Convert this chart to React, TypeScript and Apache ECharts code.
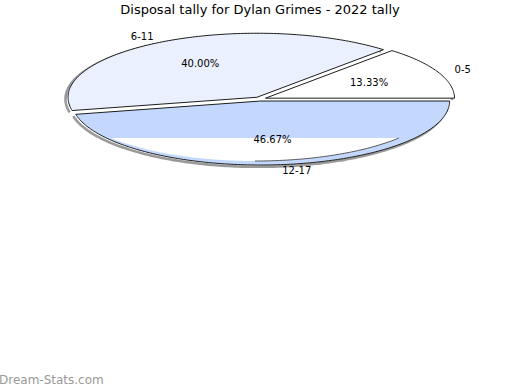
import React, { useEffect, useRef } from "react";
import * as echarts from "echarts";

const categories = ["0-5", "6-11", "12-17"];
const values = [2, 6, 7];
const sliceColors = ["#ffffff", "#eaf0fd", "#c4d8fe"];
const titleText = "Disposal tally for Dylan Grimes - 2022 tally";
const watermark = "Dream-Stats.com";

// layout (pixels)
const CX = 260;
const CY = 99;
const RA = 189;
const RB = 64;
const EXPLODE = 6;
const FONT = "DejaVu Sans";

function renderItem(params: any, api: any) {
  const i = params.dataIndex;
  const total = values.reduce((s, v) => s + v, 0);
  let start = 0;
  for (let j = 0; j < i; j++) start += values[j];
  const a0 = (start / total) * Math.PI * 2;
  const a1 = ((start + values[i]) / total) * Math.PI * 2;
  const mid = (a0 + a1) / 2;
  const k = RB / RA;
  const cx = CX + EXPLODE * Math.cos(mid);
  const cy = CY - EXPLODE * Math.sin(mid) * k;
  const pt = (ang: number, ra: number, rb: number, ox: number, oy: number) => [
    ox + ra * Math.cos(ang),
    oy - rb * Math.sin(ang),
  ];
  const steps = Math.max(2, Math.ceil((a1 - a0) / (Math.PI / 180)));
  const arc: number[][] = [];
  for (let s = 0; s <= steps; s++) {
    arc.push(pt(a0 + ((a1 - a0) * s) / steps, RA, RB, cx, cy));
  }
  const shadow = arc.map((p) => [p[0] - 2.5, p[1] + 1.8]);
  const poly = [[cx, cy], ...arc];
  const children: any[] = [
    {
      type: "polyline",
      shape: { points: shadow },
      style: { stroke: "#9a9a9a", lineWidth: 2.6, fill: null },
    },
    {
      type: "polygon",
      shape: { points: poly },
      style: { fill: sliceColors[i], stroke: null },
    },
  ];
  if (i === values.length - 1) {
    // pale lower band seen in the reference rendering
    const icx = cx - 5.6;
    const icy = cy - 2;
    const ia = RA - 4;
    const ib = RB - 2;
    const cutY = cy + 37;
    const t = Math.asin(Math.min(1, (cutY - icy) / ib));
    const pts: number[][] = [];
    const edge: number[][] = [];
    const n = 120;
    for (let s = 0; s <= n; s++) {
      const ang = Math.PI + t + ((Math.PI - 2 * t) * s) / n;
      const p = pt(ang, ia, ib, icx, icy);
      pts.push(p);
      if (ang >= Math.PI * 1.5) edge.push(p);
    }
    children.push({
      type: "polygon",
      shape: { points: pts },
      style: { fill: "#ffffff", stroke: null },
    });
    children.push({
      type: "polyline",
      shape: { points: edge },
      style: { stroke: "#333", lineWidth: 0.8, fill: null },
    });
  }
  children.push({
    type: "polygon",
    shape: { points: poly },
    style: { fill: null, stroke: "#1e1e1e", lineWidth: 1 },
  });
  const lp = pt(mid, RA * 0.6, RB * 0.6, cx, cy);
  children.push({
    type: "text",
    style: {
      text: ((values[i] / total) * 100).toFixed(2) + "%",
      x: lp[0],
      y: lp[1],
      align: "center",
      verticalAlign: "middle",
      fontSize: 10,
      fontFamily: FONT,
      fill: "#000",
    },
  });
  const op = pt(mid, RA + 18, RB + 6, cx, cy);
  children.push({
    type: "text",
    style: {
      text: categories[i],
      x: op[0],
      y: op[1],
      align: Math.cos(mid) >= 0 ? "left" : "right",
      verticalAlign: "middle",
      fontSize: 10,
      fontFamily: FONT,
      fill: "#000",
    },
  });
  return { type: "group", children };
}

export default function App() {
  const ref = useRef<HTMLDivElement>(null);
  useEffect(() => {
    document.body.style.margin = "0";
    const chart = echarts.init(ref.current!, null, { renderer: "svg" });
    chart.setOption({
      animation: false,
      backgroundColor: "#ffffff",
      title: {
        text: titleText,
        left: "center",
        top: 3,
        padding: 0,
        textStyle: { fontSize: 13, fontWeight: "normal", fontFamily: FONT, color: "#000" },
      },
      graphic: [
        {
          type: "text",
          left: -1,
          top: 374,
          style: { text: watermark, fontSize: 12, fontFamily: FONT, fill: "#999999", fontWeight: "normal" },
        },
      ],
      series: [
        {
          type: "custom",
          coordinateSystem: "none",
          silent: true,
          renderItem,
          data: values.map((v, i) => ({ name: categories[i], value: v })),
        },
      ],
    });
    return () => chart.dispose();
  }, []);
  return <div ref={ref} style={{ width: 520, height: 390 }} />;
}
